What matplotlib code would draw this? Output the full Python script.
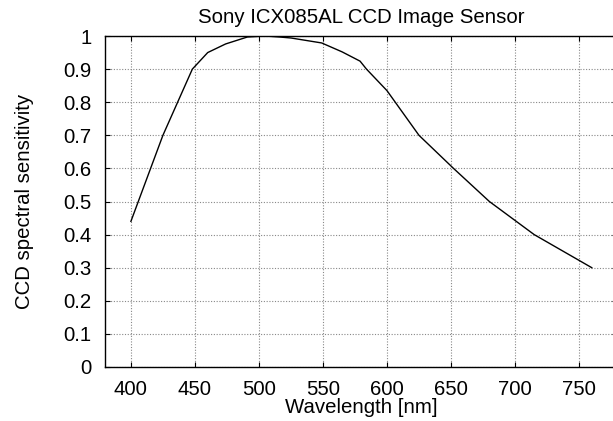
import matplotlib
matplotlib.use("Agg")
import matplotlib.pyplot as plt

wavelength = [400, 425, 448, 460, 474, 491, 505, 516, 525, 549, 565, 579, 584, 600, 625, 652, 680, 715, 760]
sensitivity = [0.44, 0.70, 0.90, 0.95, 0.976, 0.997, 1.0, 0.997, 0.994, 0.979, 0.952, 0.924, 0.90, 0.835, 0.70, 0.60, 0.50, 0.40, 0.30]
xticks = [400, 450, 500, 550, 600, 650, 700, 750]
yticks = [0, 0.1, 0.2, 0.3, 0.4, 0.5, 0.6, 0.7, 0.8, 0.9, 1]
ytick_labels = ["0", "0.1", "0.2", "0.3", "0.4", "0.5", "0.6", "0.7", "0.8", "0.9", "1"]

plt.rcParams['font.family'] = ['Liberation Sans', 'DejaVu Sans']
FS = 14.7
W, H = 613, 421
fig = plt.figure(figsize=(W / 100, H / 100), dpi=100)
left, right, top, bottom = 105.3, 617.4, 36.0, 367.0
ax = fig.add_axes([left / W, 1 - bottom / H, (right - left) / W, (bottom - top) / H])
ax.plot(wavelength, sensitivity, color='black', linewidth=1.0)
ax.set_xlim(380, 780)
ax.set_ylim(0, 1)
ax.set_xticks(xticks)
ax.set_yticks(yticks)
ax.set_yticklabels(ytick_labels)
ax.grid(True, color='#888888', linestyle=(0, (1, 1.5)), linewidth=0.8)
ax.tick_params(direction='in', length=3.6, width=0.8, labelsize=FS, top=True, right=True)
ax.tick_params(axis='y', pad=9.8)
ax.tick_params(axis='x', pad=9.4)
for s in ax.spines.values():
    s.set_linewidth(1.0)
fig.text(361 / W, 1 - 412.7 / H, 'Wavelength [nm]', ha='center', va='baseline', fontsize=FS)
fig.text(15 / W, 1 - 201.5 / H, 'CCD spectral sensitivity', ha='left', va='center', rotation=90, fontsize=FS)
fig.text(361 / W, 1 - 22.7 / H, 'Sony ICX085AL CCD Image Sensor', ha='center', va='baseline', fontsize=FS)
fig.savefig('out.png', dpi=100)
